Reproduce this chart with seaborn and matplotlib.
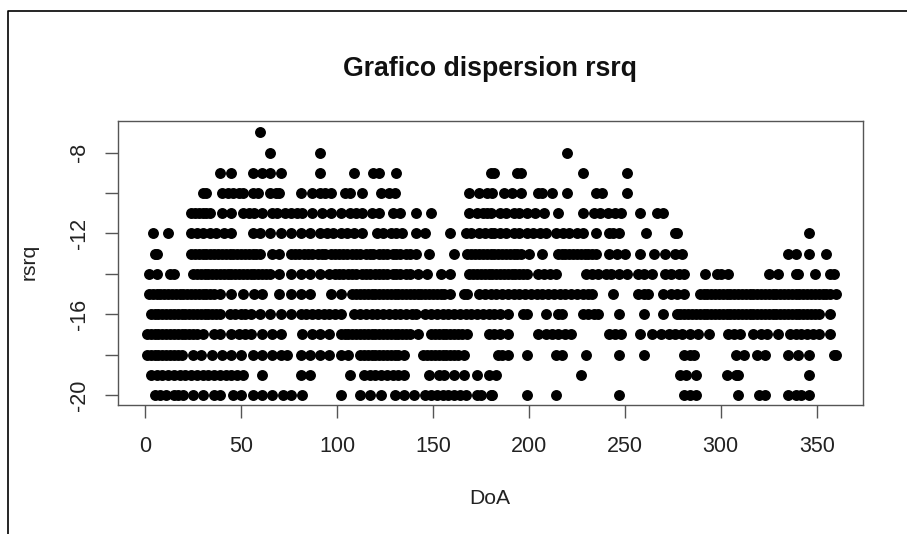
import pandas as pd
import matplotlib
matplotlib.use('Agg')
import matplotlib.pyplot as plt
from matplotlib.lines import Line2D
import seaborn as sns

# DoA values, one list per rsrq level
doa_m7 = [60]
doa_m8 = [65, 91, 220]
doa_m9 = [39, 45, 56, 61, 65, 71, 91, 109, 119, 122, 131, 180, 182, 194, 196, 228, 251]
doa_m10 = [30, 32, 40, 43, 46, 49, 51, 56, 59, 65, 68, 70, 81, 87, 91, 94, 97, 104, 107, 113,
           123, 127, 130, 169, 174, 178, 181, 187, 191, 196, 205, 207, 212, 220, 235, 238, 251]
doa_m11 = [24, 26, 28, 30, 32, 34, 40, 45, 51, 54, 57, 61, 66, 69, 73, 76, 79, 82, 87, 92, 97,
           102, 107, 110, 113, 118, 122, 129, 133, 141, 149, 169, 173, 176, 178, 180, 185, 188,
           192, 195, 199, 203, 208, 215, 228, 234, 237, 241, 245, 248, 258, 267, 270]
doa_m12 = [4, 12, 24, 27, 30, 34, 37, 41, 45, 56, 60, 65, 71, 76, 81, 86, 91, 95, 98, 102, 105,
           109, 113, 121, 124, 128, 131, 134, 141, 146, 159, 167, 170, 174, 177, 180, 182, 185,
           188, 192, 195, 199, 202, 206, 209, 214, 218, 221, 225, 228, 235, 242, 244, 247, 261,
           276, 277, 346]
doa_m13 = [5, 6, 24, 26, 28, 30, 32, 34, 36, 38, 40, 42, 44, 46, 48, 50, 52, 54, 56, 58, 60, 66,
           70, 76, 78, 80, 83, 85, 87, 90, 92, 94, 97, 99, 101, 103, 105, 108, 110, 112, 115, 117,
           119, 122, 124, 126, 129, 131, 133, 136, 138, 141, 148, 161, 168, 170, 172, 174, 176,
           178, 180, 182, 184, 186, 188, 190, 192, 194, 196, 200, 207, 215, 217, 219, 221, 223,
           225, 227, 229, 231, 233, 235, 242, 246, 250, 258, 265, 271, 276, 280, 335, 339, 346, 355]
doa_m14 = [2, 6, 13, 15, 25, 27, 29, 31, 33, 35, 37, 39, 41, 43, 45, 47, 49, 51, 53, 55, 57, 59,
           61, 63, 65, 70, 76, 81, 86, 91, 96, 99, 101, 103, 106, 108, 110, 113, 115, 117, 120, 122,
           124, 126, 129, 131, 133, 136, 138, 142, 147, 154, 159, 169, 171, 173, 175, 177, 179, 181,
           183, 185, 187, 189, 191, 193, 195, 197, 199, 205, 208, 211, 214, 230, 233, 236, 240, 243,
           247, 251, 257, 260, 264, 271, 274, 278, 281, 292, 298, 300, 304, 325, 330, 339, 340, 349,
           357, 359]
doa_m15 = [2, 4, 6, 8, 10, 12, 14, 16, 18, 20, 22, 24, 26, 28, 30, 32, 34, 36, 39, 45, 51, 57, 61,
           70, 76, 81, 86, 97, 102, 108, 110, 112, 114, 116, 118, 120, 122, 124, 126, 128, 130, 132,
           134, 136, 138, 140, 142, 144, 146, 148, 150, 152, 154, 156, 159, 166, 168, 174, 177, 180,
           183, 186, 189, 192, 195, 198, 201, 204, 207, 210, 213, 216, 219, 222, 225, 228, 231, 233,
           244, 257, 260, 262, 270, 274, 277, 281, 289, 291, 293, 295, 297, 299, 301, 303, 305, 307,
           309, 311, 313, 315, 317, 319, 321, 323, 325, 327, 329, 331, 333, 335, 337, 339, 341, 343,
           345, 347, 349, 351, 353, 355, 357, 360]
doa_m16 = [3, 5, 7, 9, 11, 13, 15, 17, 19, 21, 23, 25, 27, 29, 31, 33, 35, 37, 39, 44, 47, 50, 52,
           55, 60, 65, 71, 76, 81, 84, 87, 90, 93, 96, 99, 102, 109, 112, 115, 118, 121, 124, 127,
           130, 133, 136, 139, 141, 146, 149, 152, 155, 158, 161, 164, 167, 170, 173, 176, 179, 182,
           185, 189, 197, 199, 209, 215, 217, 228, 231, 234, 236, 247, 260, 270, 277, 279, 281, 283,
           285, 287, 289, 291, 293, 295, 297, 299, 301, 303, 305, 307, 309, 311, 313, 315, 317, 319,
           321, 323, 325, 327, 329, 331, 333, 335, 337, 339, 341, 343, 345, 347, 349, 351, 357]
doa_m17 = [1, 3, 5, 7, 9, 11, 13, 15, 17, 19, 21, 23, 25, 27, 30, 36, 39, 45, 49, 52, 55, 61, 66,
           71, 82, 87, 91, 96, 102, 104, 106, 108, 110, 112, 114, 116, 118, 120, 122, 124, 126, 128,
           130, 132, 134, 136, 138, 142, 149, 151, 153, 155, 157, 159, 161, 163, 165, 168, 179, 182,
           185, 189, 205, 209, 212, 215, 219, 222, 242, 245, 248, 258, 264, 269, 273, 276, 280, 284,
           288, 294, 304, 307, 310, 317, 321, 324, 330, 336, 339, 342, 345, 348, 351, 357]
doa_m18 = [1, 3, 5, 7, 9, 11, 13, 15, 17, 19, 25, 29, 35, 40, 45, 50, 56, 61, 66, 71, 74, 81, 86,
           91, 96, 102, 106, 112, 114, 116, 118, 120, 122, 124, 126, 128, 130, 132, 135, 145, 147,
           149, 151, 153, 155, 157, 159, 161, 163, 166, 184, 186, 189, 199, 214, 217, 230, 247, 260,
           281, 284, 286, 308, 312, 319, 323, 335, 340, 346, 359, 360]
doa_m19 = [3, 6, 9, 12, 15, 18, 21, 24, 27, 30, 33, 36, 39, 42, 45, 48, 51, 61, 81, 86, 107, 114,
           117, 120, 123, 126, 129, 132, 135, 148, 153, 156, 161, 166, 173, 179, 183, 227, 279, 282,
           287, 303, 308, 309, 346]
doa_m20 = [5, 8, 11, 15, 17, 20, 25, 30, 36, 39, 46, 50, 56, 61, 66, 72, 76, 82, 102, 112, 117, 123,
           130, 135, 140, 146, 149, 152, 155, 158, 161, 164, 167, 173, 175, 180, 181, 199, 214, 247,
           281, 284, 287, 309, 320, 323, 335, 339, 342, 346]

rsrq_levels = [-7, -8, -9, -10, -11, -12, -13, -14, -15, -16, -17, -18, -19, -20]
doa_rows = [doa_m7, doa_m8, doa_m9, doa_m10, doa_m11, doa_m12, doa_m13,
            doa_m14, doa_m15, doa_m16, doa_m17, doa_m18, doa_m19, doa_m20]

x_ticks = [0, 50, 100, 150, 200, 250, 300, 350]
y_ticks = [-8, -10, -12, -14, -16, -18, -20]
y_tick_labels = ['-8', '', '-12', '', '-16', '', '-20']

# Long table for seaborn
df = pd.DataFrame({
    'DoA': [d for row in doa_rows for d in row],
    'rsrq': [r for r, row in zip(rsrq_levels, doa_rows) for d in row],
})

sns.set_style('white')
plt.rcParams['font.family'] = ['Liberation Sans', 'DejaVu Sans']

W, H = 907, 534
fig = plt.figure(figsize=(W / 100, H / 100), dpi=100)
ax = fig.add_axes([118 / W, 1 - 405 / H, (863 - 118) / W, (405 - 121) / H])

sns.scatterplot(data=df, x='DoA', y='rsrq', color='black', s=62, linewidth=0, ax=ax)

ax.set_xlim(-14.1, 374.1)
ax.set_ylim(-20.5, -6.44)
ax.set_xticks(x_ticks)
ax.set_yticks(y_ticks)
ax.set_yticklabels(y_tick_labels, rotation=90, va='center')
ax.tick_params(axis='x', length=9.5, width=1, color='#555555', labelsize=15.5, pad=13, labelcolor='#222222', bottom=True)
ax.tick_params(axis='y', length=9.5, width=1, color='#555555', labelsize=15.5, pad=11, labelcolor='#222222', left=True)
for s in ax.spines.values():
    s.set_color('#555555')
    s.set_linewidth(1)

ax.set_xlabel('')
ax.set_ylabel('')
fig.text(490 / W, 1 - 499 / H, 'DoA', ha='center', va='center', fontsize=15.2, color='#222222')
fig.text(29 / W, 1 - 262 / H, 'rsrq', ha='center', va='center', rotation=90, fontsize=15.2, color='#222222')
fig.text(490 / W, 1 - 69 / H, 'Grafico dispersion rsrq', ha='center', va='center',
         fontsize=19.2, fontweight='bold', color='#111111')

# Screenshot frame along the top and left edges
fig.add_artist(Line2D([8 / W, 8 / W, 1], [0, 1 - 11 / H, 1 - 11 / H], color='black', lw=1.2,
                      transform=fig.transFigure))

fig.savefig('out.png', dpi=100)
